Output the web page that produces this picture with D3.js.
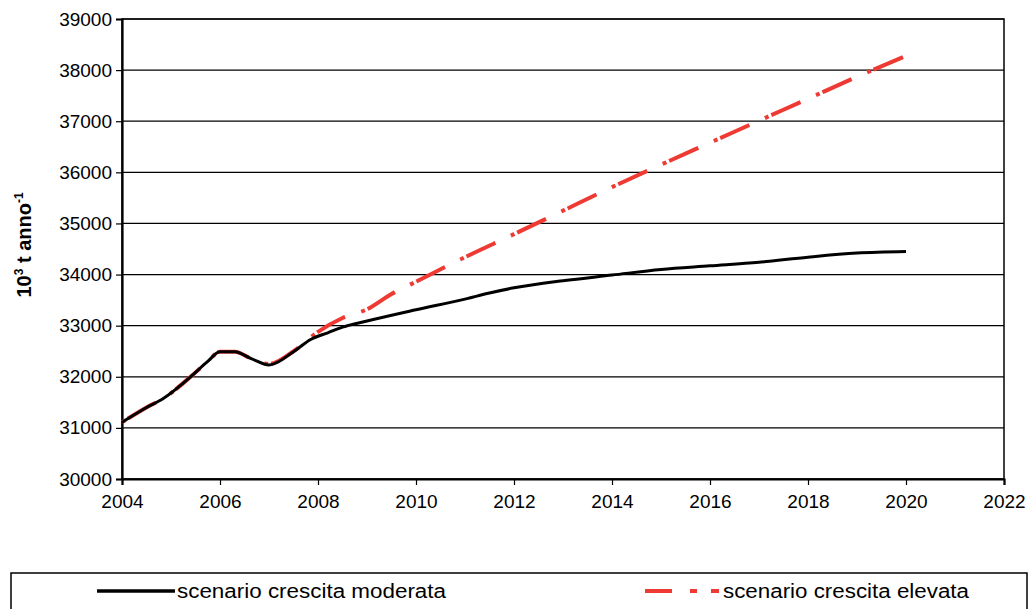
<!DOCTYPE html>
<html><head><meta charset="utf-8">
<script src="https://cdn.jsdelivr.net/npm/d3@7"></script>
<style>body{margin:0;background:#fff}svg{display:block}</style>
</head><body>
<svg id="c" width="1031" height="609"></svg>
<script>
const years = [2004,2004.5,2004.85,2005.4,2005.75,2006,2006.3,2006.65,2007,2007.5,2007.85,2008.2,2008.5,2009,2010,2011,2011.5,2012,2013,2014,2015,2016,2017,2018,2019,2020];
const moderata = [31110,31400,31580,32000,32300,32490,32490,32350,32230,32490,32730,32860,32970,33090,33310,33520,33640,33740,33880,33990,34100,34170,34240,34340,34420,34450];
const yearsElev = [2004,2004.5,2004.85,2005.4,2005.75,2006,2006.3,2006.65,2007,2007.5,2008,2008.5,2009,2009.5,2010,2011,2012,2013,2014,2015,2016,2017,2018,2019,2020];
const elevata = [31110,31400,31580,32000,32300,32490,32490,32350,32250,32500,32880,33150,33320,33620,33860,34340,34790,35250,35710,36150,36580,37010,37440,37870,38280];
const xTicks = [2004,2006,2008,2010,2012,2014,2016,2018,2020,2022];
const yTicks = [30000,31000,32000,33000,34000,35000,36000,37000,38000,39000];
const seriesNames = ["scenario crescita moderata","scenario crescita elevata"];

const svg = d3.select("#c");
const L=122,R=1004,T=19,B=479;
const x = d3.scaleLinear().domain([2004,2022]).range([L,R]);
const y = d3.scaleLinear().domain([30000,39000]).range([B,T]);
const font = "Liberation Sans, Arial, sans-serif";

svg.append("g").selectAll("line").data(yTicks).join("line")
  .attr("x1",L).attr("x2",R).attr("y1",d=>y(d)).attr("y2",d=>y(d))
  .attr("stroke","#000").attr("stroke-width",1.2);
svg.append("rect").attr("x",L).attr("y",T).attr("width",R-L).attr("height",B-T)
  .attr("fill","none").attr("stroke","#000").attr("stroke-width",1.5);

const yAxis = svg.append("g").attr("transform",`translate(${L},0)`)
  .call(d3.axisLeft(y).tickValues(yTicks).tickFormat(d3.format("d")).tickSize(6).tickPadding(4));
const xAxis = svg.append("g").attr("transform",`translate(0,${B})`)
  .call(d3.axisBottom(x).tickValues(xTicks).tickFormat(d3.format("d")).tickSize(6).tickPadding(10));
[yAxis,xAxis].forEach(a=>{
  a.selectAll("text").attr("font-family",font).attr("font-size",19).attr("fill","#000");
  a.selectAll("line").attr("stroke","#000").attr("stroke-width",1.2);
  a.select(".domain").attr("stroke","#000").attr("stroke-width",2.2);
});

const yt = svg.append("text").attr("transform",`translate(31,245) rotate(-90)`)
  .attr("text-anchor","middle").attr("font-family",font).attr("font-size",20).attr("font-weight","bold");
yt.append("tspan").text("10");
yt.append("tspan").attr("font-size",12).attr("dy",-8).text("3");
yt.append("tspan").attr("dy",8).text(" t anno");
yt.append("tspan").attr("font-size",12).attr("dy",-8).text("-1");

const line = d3.line().x(d=>x(d[0])).y(d=>y(d[1])).curve(d3.curveMonotoneX);
svg.append("path").datum(yearsElev.map((v,i)=>[v,elevata[i]]))
  .attr("d",line).attr("fill","none").attr("stroke","#ee3a33").attr("stroke-width",4)
  .attr("stroke-dasharray","4,3,32,17");
svg.append("path").datum(years.map((v,i)=>[v,moderata[i]]))
  .attr("d",line).attr("fill","none").attr("stroke","#000").attr("stroke-width",3);

const lg = svg.append("g");
lg.append("rect").attr("x",11).attr("y",573).attr("width",1016).attr("height",50)
  .attr("fill","none").attr("stroke","#000").attr("stroke-width",1.5);
lg.append("line").attr("x1",97).attr("x2",175).attr("y1",591).attr("y2",591)
  .attr("stroke","#000").attr("stroke-width",3.5);
lg.append("line").attr("x1",645).attr("x2",720).attr("y1",591).attr("y2",591)
  .attr("stroke","#ee3a33").attr("stroke-width",4).attr("stroke-dasharray","27,18,7,14,8");
lg.append("text").attr("x",177).attr("y",598).attr("font-family",font).attr("font-size",20)
  .attr("textLength",269).attr("lengthAdjust","spacingAndGlyphs").text(seriesNames[0]);
lg.append("text").attr("x",723).attr("y",598).attr("font-family",font).attr("font-size",20)
  .attr("textLength",246).attr("lengthAdjust","spacingAndGlyphs").text(seriesNames[1]);
</script>
</body></html>
